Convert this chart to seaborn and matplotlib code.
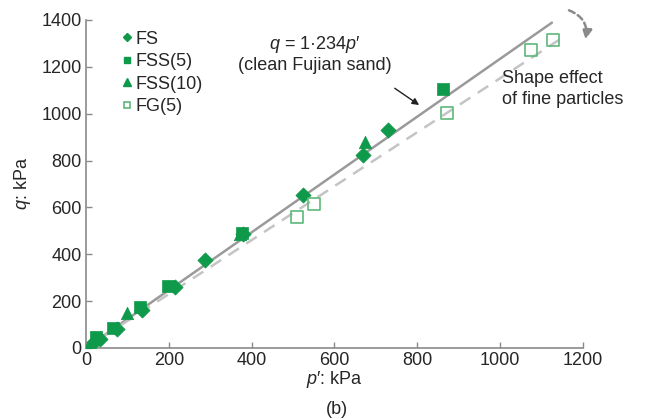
import matplotlib
matplotlib.use("Agg")
import matplotlib.pyplot as plt
from matplotlib.lines import Line2D
import seaborn as sns
import numpy as np
import pandas as pd

# ── data ────────────────────────────────────────────────────────────────────
fs_p = [20, 35, 75, 135, 215, 287, 380, 524, 669, 729]
fs_q = [25, 40, 80, 160, 262, 375, 488, 652, 823, 930]

fss5_p = [25, 65, 130, 198, 377, 862]
fss5_q = [45, 85, 175, 265, 492, 1104]

fss10_p = [5, 100, 372, 674]
fss10_q = [5, 148, 485, 878]

fg5_p = [509, 550, 871, 1074, 1127]
fg5_q = [559, 614, 1002, 1271, 1313]

clean_slope = 1.234
clean_p_end = 1125
fine_slope = 1.151
fine_p_end = 1152

x_ticks = [0, 200, 400, 600, 800, 1000, 1200]
y_ticks = [0, 200, 400, 600, 800, 1000, 1200, 1400]

GREEN = "#0e9a4a"
LIGHT_GREEN = "#5cb97c"
FS = 13

sns.set_theme(style="ticks")
plt.rcParams["font.family"] = ["Liberation Sans", "DejaVu Sans"]
plt.rcParams["mathtext.fontset"] = "custom"
plt.rcParams["mathtext.it"] = "Liberation Sans:italic"
plt.rcParams["mathtext.rm"] = "Liberation Sans"

fig = plt.figure(figsize=(6.45, 4.19), dpi=100)
ax = fig.add_axes([0.1333, 0.1695, 0.7705, 0.783])

# fitted lines
p_clean = np.array([0, clean_p_end])
p_fine = np.array([0, fine_p_end])
sns.lineplot(x=p_clean, y=clean_slope * p_clean, ax=ax, color="#9a9a9a", lw=1.8)
ax.plot(p_fine, fine_slope * p_fine, color="#c4c4c4", lw=1.8, ls=(0, (5, 3.5)))

# data series
df = pd.concat([
    pd.DataFrame({"p": fs_p, "q": fs_q, "set": "FS"}),
    pd.DataFrame({"p": fss5_p, "q": fss5_q, "set": "FSS(5)"}),
    pd.DataFrame({"p": fss10_p, "q": fss10_q, "set": "FSS(10)"}),
])
markers = {"FS": "D", "FSS(5)": "s", "FSS(10)": "^"}
sizes = {"FS": 60, "FSS(5)": 70, "FSS(10)": 80}
for name, grp in df.groupby("set", sort=False):
    sns.scatterplot(data=grp, x="p", y="q", ax=ax, marker=markers[name],
                    s=sizes[name], color=GREEN, edgecolor=GREEN, lw=0.5,
                    zorder=3, legend=False)
sns.scatterplot(x=fg5_p, y=fg5_q, ax=ax, marker="s", s=70,
                facecolor="none", edgecolor=LIGHT_GREEN, linewidth=1.2,
                zorder=3, legend=False)

# legend
handles = [
    Line2D([], [], ls="", marker="D", ms=4.5, color=GREEN),
    Line2D([], [], ls="", marker="s", ms=5, color=GREEN),
    Line2D([], [], ls="", marker="^", ms=6, color=GREEN),
    Line2D([], [], ls="", marker="s", ms=5, mfc="none", mec=LIGHT_GREEN, mew=1.2),
]
ax.legend(handles, ["FS", "FSS(5)", "FSS(10)", "FG(5)"], loc="upper left",
          bbox_to_anchor=(0.05, 1.0), frameon=False, fontsize=FS,
          handlelength=0.6, handletextpad=0.15, labelspacing=0.3,
          borderaxespad=0.2)

# annotations
ax.text(0.46, 0.925, "$q$ = 1·234$p$\u2032", transform=ax.transAxes,
        ha="center", va="center", fontsize=FS)
ax.text(0.46, 0.86, "(clean Fujian sand)", transform=ax.transAxes,
        ha="center", va="center", fontsize=FS)
ax.annotate("", xy=(810, 1030), xytext=(740, 1115),
            arrowprops=dict(arrowstyle="-|>", color="#222222", lw=1.0,
                            mutation_scale=10))
ax.text(0.837, 0.79, "Shape effect\nof fine particles", transform=ax.transAxes,
        ha="left", va="center", fontsize=FS, linespacing=1.3)
ax.annotate("", xy=(1205, 1305), xytext=(1160, 1445),
            arrowprops=dict(arrowstyle="-|>", color="#8a8a8a", lw=1.8,
                            ls=(0, (2.5, 1.5)), mutation_scale=14,
                            connectionstyle="arc3,rad=-0.45"),
            annotation_clip=False)

# axes styling
ax.set_xlim(0, 1200)
ax.set_ylim(0, 1400)
ax.set_xticks(x_ticks)
ax.set_yticks(y_ticks)
ax.tick_params(direction="in", length=4, width=1, color="#8a8a8a",
               labelsize=FS, pad=3)
for side in ["left", "bottom"]:
    ax.spines[side].set_color("#8a8a8a")
    ax.spines[side].set_linewidth(1.2)
sns.despine(ax=ax)
ax.set_xlabel("$p$\u2032: kPa", fontsize=FS, labelpad=0)
ax.set_ylabel("$q$: kPa", fontsize=FS, labelpad=6)
fig.text(0.523, 0.022, "(b)", ha="center", va="center", fontsize=FS)

fig.savefig("out.png", dpi=100)
